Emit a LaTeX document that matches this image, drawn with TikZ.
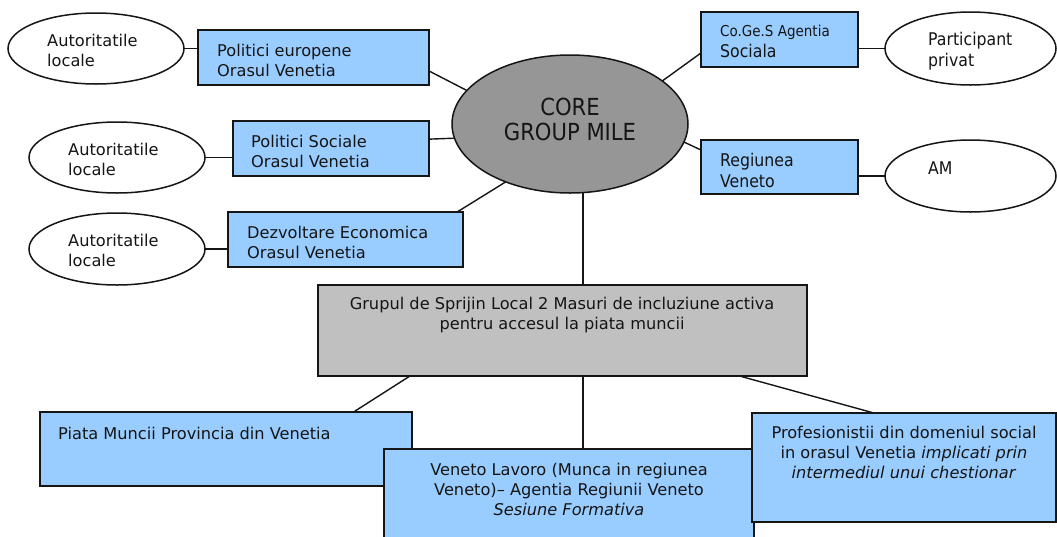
\documentclass[tikz,border=0pt]{standalone}
\usepackage{fontspec}
\setmainfont{DejaVu Sans}
\newfontfamily\condfont{DejaVu Sans Condensed}
\usetikzlibrary{shapes.geometric,calc}
\definecolor{boxblue}{HTML}{99CCFF}
\definecolor{boxgray}{HTML}{C0C0C0}
\definecolor{coregray}{HTML}{969696}
\definecolor{ink}{HTML}{151515}
\begin{document}
\begin{tikzpicture}[x=1pt,y=-1pt,
  shp/.style={draw=ink, line width=1.5pt, inner sep=0pt, outer sep=0pt},
  oval/.style={shp, ellipse, fill=white},
  bluebox/.style={shp, rectangle, fill=boxblue},
  graybox/.style={shp, rectangle, fill=boxgray},
  coreoval/.style={shp, ellipse, fill=coregray},
  txt/.style={inner sep=0pt, text=ink, font=\fontsize{16.2}{20}\selectfont, align=left, anchor=west},
  ctxt/.style={inner sep=0pt, text=ink, font=\fontsize{16.2}{20}\selectfont, align=center},
  ntxt/.style={inner sep=0pt, text=ink, font=\condfont\fontsize{17.5}{21}\selectfont, align=left, anchor=west},
  link/.style={draw=ink, line width=1.4pt},
]
\useasboundingbox (0,0) rectangle (1057,536);
\clip (0,0) rectangle (1057,536);
\fill[white] (0,0) rectangle (1057,536);

% left column
\node[oval, minimum width=176pt, minimum height=71pt] (e1) at (96,48.5) {};
\node[bluebox, minimum width=231pt, minimum height=55pt] (pe) at (313.5,57.5) {};
\node[oval, minimum width=176pt, minimum height=71pt] (e2) at (117,157.5) {};
\node[bluebox, minimum width=196pt, minimum height=55pt] (ps) at (331,148.5) {};
\node[oval, minimum width=176pt, minimum height=72pt] (e3) at (117,249) {};
\node[bluebox, minimum width=235pt, minimum height=55pt] (de) at (345.5,239.5) {};

% core
\node[coreoval, minimum width=236pt, minimum height=138pt] (core) at (570,124) {};

% right column
\node[bluebox, minimum width=157pt, minimum height=55pt] (cg) at (779.5,39.5) {};
\node[oval, minimum width=171pt, minimum height=73pt] (pp) at (970.5,48.5) {};
\node[bluebox, minimum width=157pt, minimum height=54pt] (rv) at (779.5,167) {};
\node[oval, minimum width=171pt, minimum height=72pt] (am) at (970.5,176) {};

% lower part
\node[graybox, minimum width=489pt, minimum height=91pt] (gr) at (562.5,330.5) {};
\node[bluebox, minimum width=372pt, minimum height=74pt] (pm) at (226,449) {};
\node[bluebox, minimum width=370pt, minimum height=96pt] (vl) at (569,497) {};
\node[bluebox, minimum width=304pt, minimum height=109pt] (pf) at (904,467.5) {};

% connectors
\draw[link] (e1.east) -- (e1.east -| pe.west);
\draw[link] (e2.east) -- (e2.east -| ps.west);
\draw[link] (e3.east) -- (e3.east -| de.west);
\draw[link] (pp.west -| cg.east) -- (pp.west);
\draw[link] (am.west -| rv.east) -- (am.west);
\draw[link] ($(pe.north east)!0.745!(pe.south east)$) -- (core.162);
\draw[link] ($(ps.north east)!0.33!(ps.south east)$) -- (core.187);
\draw[link] ($(de.north west)!0.975!(de.north east)$) -- (core.222);
\draw[link] ($(cg.north west)!0.745!(cg.south west)$) -- (core.25);
\draw[link] ($(rv.north west)!0.185!(rv.south west)$) -- (core.-9);
\coordinate (vx) at (583,0);
\draw[link] (vx |- core.south) -- (vx |- gr.north);
\draw[link] ($(gr.south west)!0.188!(gr.south east)$) -- ($(pm.north west)!0.843!(pm.north east)$);
\draw[link] (vx |- gr.south) -- (vx |- vl.north);
\draw[link] ($(gr.south west)!0.862!(gr.south east)$) -- ($(pf.north west)!0.401!(pf.north east)$);

% texts
\node[txt] (te1) at (47,50) {Autoritatile\\locale};
\node[txt] (te2) at (68,159) {Autoritatile\\locale};
\node[txt] (te3) at (68,250) {Autoritatile\\locale};
\node[txt] (tpe) at (217,60) {Politici europene\\Orasul Venetia};
\node[txt] (tps) at (251,151) {Politici Sociale\\Orasul Venetia};
\node[txt] (tde) at (247,242) {Dezvoltare Economica\\Orasul Venetia};
\node[inner sep=0pt, text=ink, font=\condfont\fontsize{23.5}{25}\selectfont, align=center] (tcore) at (570,119) {CORE\\GROUP MILE};
\node[ntxt] (tcg) at (720,41) {{\fontsize{15}{17}\selectfont Co.Ge.S Agentia}\\Sociala};
\node[ntxt] (trv) at (720,170) {Regiunea\\Veneto};
\node[ntxt] (tpp) at (928,51.5) {Participant\\privat};
\node[ntxt] (tam) at (928,168) {AM};
\node[ctxt] (tgr) at (562,315) {Grupul de Sprijin Local 2 Masuri de incluziune activa\\pentru accesul la piata muncii};
\node[txt] (tpm) at (58,433) {Piata Muncii Provincia din Venetia};
\node[ctxt] (tvl) at (569,489) {Veneto Lavoro (Munca in regiunea\\Veneto)– Agentia Regiunii Veneto\\\textit{Sesiune Formativa}};
\node[ctxt] (tpf) at (904,452) {Profesionistii din domeniul social\\in orasul Venetia \textit{implicati prin}\\\textit{intermediul unui chestionar}};
\end{tikzpicture}
\end{document}
